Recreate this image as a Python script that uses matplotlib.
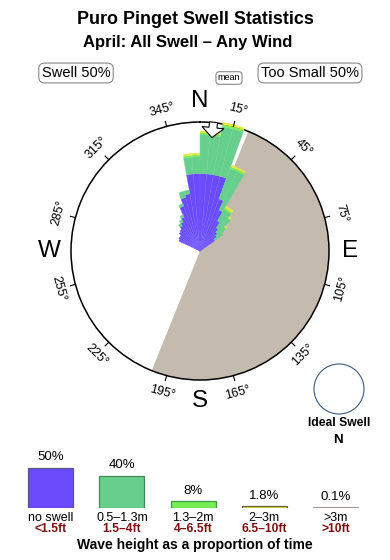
import numpy as np
import matplotlib
matplotlib.use("Agg")
import matplotlib.pyplot as plt
from matplotlib.patches import Circle, Polygon

plt.rcParams['font.family'] = ['Liberation Sans', 'DejaVu Sans']

# ---- data -------------------------------------------------------------
# 5 degree direction bins (start angle), rose segment lengths in % of outer ring
bin_start = [295, 300, 305, 310, 315, 320, 325, 330, 335, 340, 345, 350,
             355, 0, 5, 10, 15, 20, 25, 30, 35, 40, 45, 50]
seg_blue = [18, 19, 19, 21, 22, 24, 26, 29, 37, 43, 45, 60,
            60, 60, 60, 60, 60, 43, 35, 27, 22, 19, 17, 14]
seg_green = [0, 0, 0, 0, 0, 2, 2, 2, 2, 5, 3, 13,
             13, 30, 30, 38, 38, 25, 33, 10, 15, 14, 9, 8]
seg_lgreen = [0, 0, 0, 0, 0, 0, 0, 0, 0, 0, 0, 1.5,
              1.5, 1.5, 1.5, 1.5, 1.5, 1.5, 1.5, 1.5, 1.5, 1, 1, 0]
seg_yellow = [0, 0, 0, 0, 0, 0, 0, 0, 0, 0, 0, 1.5,
              1.5, 1.5, 1.5, 2, 2, 1.5, 1.5, 2, 2, 1, 1, 0]

shadow_from, shadow_to = 22, 202      # land shadow (too small) sector
mean_dir = 6

cats = ['no swell', '0.5\u20131.3m', '1.3\u20132m', '2\u20133m', '>3m']
cats_ft = ['<1.5ft', '1.5\u20134ft', '4\u20136.5ft', '6.5\u201310ft', '>10ft']
pct = [50, 40, 8, 1.8, 0.1]
pct_lbl = ['50%', '40%', '8%', '1.8%', '0.1%']

c_blue = '#6a4bfc'
c_green = '#66cf8e'
c_lgreen = '#77ee55'
c_yellow = '#e8e840'
c_red = '#dd9999'
c_shadow = '#c5baae'

W, H = 390, 560
fig = plt.figure(figsize=(3.9, 5.6), dpi=100)
px = lambda x, y: (x / W, 1 - y / H)

# ---- rose --------------------------------------------------------------
cx, cy, R = 200, 251, 129
ax = fig.add_axes([(cx - R) / W, 1 - (cy + R) / H, 2 * R / W, 2 * R / H],
                  projection='polar')
ax.set_theta_zero_location('N')
ax.set_theta_direction(-1)
ax.set_ylim(0, 100)
ax.grid(False)
ax.set_xticks([])
ax.set_yticks([])
ax.spines['polar'].set_linewidth(1.1)

ax.bar(np.deg2rad((shadow_from + shadow_to) / 2), 100,
       width=np.deg2rad(shadow_to - shadow_from), bottom=0,
       color=c_shadow, linewidth=0, zorder=1)

th = np.deg2rad(np.array(bin_start) + 2.5)
wd = np.deg2rad(5)
bottom = np.zeros(len(th))
for seg, col, ec, lw in [(seg_blue, c_blue, '#7a62ff', 0.3),
                         (seg_green, c_green, '#72d598', 0.3),
                         (seg_lgreen, c_lgreen, 'none', 0),
                         (seg_yellow, c_yellow, 'none', 0)]:
    seg = np.array(seg, dtype=float)
    keep = seg > 0
    bars = ax.bar(th[keep], seg[keep], width=wd, bottom=bottom[keep], color=col,
                  edgecolor=ec, linewidth=lw, zorder=3)
    for b in bars:
        b.set_clip_on(False)
    bottom += seg

# mean direction arrow (in px of rose, converted to polar)
shape = [(114, 0), (124, -11), (124, -4), (129.5, -4), (129.5, 4), (124, 4), (124, 11)]
t0 = np.deg2rad(mean_dir)
u = np.array([np.sin(t0), np.cos(t0)])
v = np.array([np.cos(t0), -np.sin(t0)])
verts = []
for r_, o_ in shape:
    p = r_ * u + o_ * v
    verts.append((np.arctan2(p[0], p[1]), np.hypot(p[0], p[1]) / R * 100))
arrow = Polygon(verts, closed=True, facecolor='white', edgecolor='black',
                linewidth=0.8, zorder=5, clip_on=False)
ax.add_patch(arrow)

for d in range(15, 360, 30):
    t = np.deg2rad(d)
    ax.plot([t, t], [100, 104], color='black', lw=0.8, clip_on=False, zorder=6)
    rot = (-d) % 180
    if rot > 90:
        rot -= 180
    ax.text(t, 113.5, f'{d}\u00b0', rotation=rot, rotation_mode='anchor',
            ha='center', va='center', fontsize=9)

for lab, d in [('N', 0), ('E', 90), ('S', 180), ('W', 270)]:
    ax.text(np.deg2rad(d), 116.5, lab, ha='center', va='center', fontsize=17.5)

# ---- titles & boxes ----------------------------------------------------
fig.text(*px(195, 19), 'Puro Pinget Swell Statistics', ha='center', va='center',
         fontsize=12.9, fontweight='bold')
fig.text(*px(188, 42), 'April: All Swell \u2013 Any Wind', ha='center', va='center',
         fontsize=12, fontweight='bold')
box = dict(boxstyle='round,pad=0.2,rounding_size=0.4', facecolor='white',
           edgecolor='#888888', linewidth=0.8)
fig.text(*px(76, 73), 'Swell 50%', ha='center', va='center', fontsize=10.5, bbox=box)
fig.text(*px(310, 73), 'Too Small 50%', ha='center', va='center', fontsize=10.5, bbox=box)
fig.text(*px(229, 78), 'mean', ha='center', va='center', fontsize=6.5, bbox=box)

# ideal swell
fig.add_artist(Circle((339 / 100, (H - 389) / 100), 0.25, transform=fig.dpi_scale_trans,
                      facecolor='white', edgecolor='#3a5a80', linewidth=0.8))
fig.text(*px(339, 423), 'Ideal Swell', ha='center', va='center', fontsize=8.7,
         fontweight='bold')
fig.text(*px(338, 440), 'N', ha='center', va='center', fontsize=9.5, fontweight='bold')

# ---- height legend -----------------------------------------------------
base, step, x0, ppp = 507.5, 71.2, 50.7, 0.79
lax = fig.add_axes([0, 1 - base / H, 1, 60 / H])
lax.set_xlim(-x0 / step, (W - x0) / step)
lax.set_ylim(0, 60 / ppp)
lax.axis('off')
xs = np.arange(len(cats))
faces = [c_blue, c_green, c_lgreen, c_yellow, c_red]
edges = ['#555588', '#448855', '#449944', '#666633', '#aa9999']
lax.bar(xs, pct, width=45 / step, bottom=0, color=faces, edgecolor=edges,
        linewidth=0.9, align='center')
for x, p, lbl in zip(xs, pct, pct_lbl):
    lax.text(x, p + 4.5 / ppp, lbl, ha='center', va='bottom', fontsize=9.5)
for x, c, cf in zip(xs, cats, cats_ft):
    fig.text(x0 / W + x * step / W, 1 - 518 / H, c, ha='center', va='center', fontsize=9)
    fig.text(x0 / W + x * step / W, 1 - 529 / H, cf, ha='center', va='center',
             fontsize=8.7, fontweight='bold', color='#7a1010')
fig.text(*px(195, 545), 'Wave height as a proportion of time', ha='center',
         va='center', fontsize=10, fontweight='bold')

fig.savefig('out.png', dpi=100)
